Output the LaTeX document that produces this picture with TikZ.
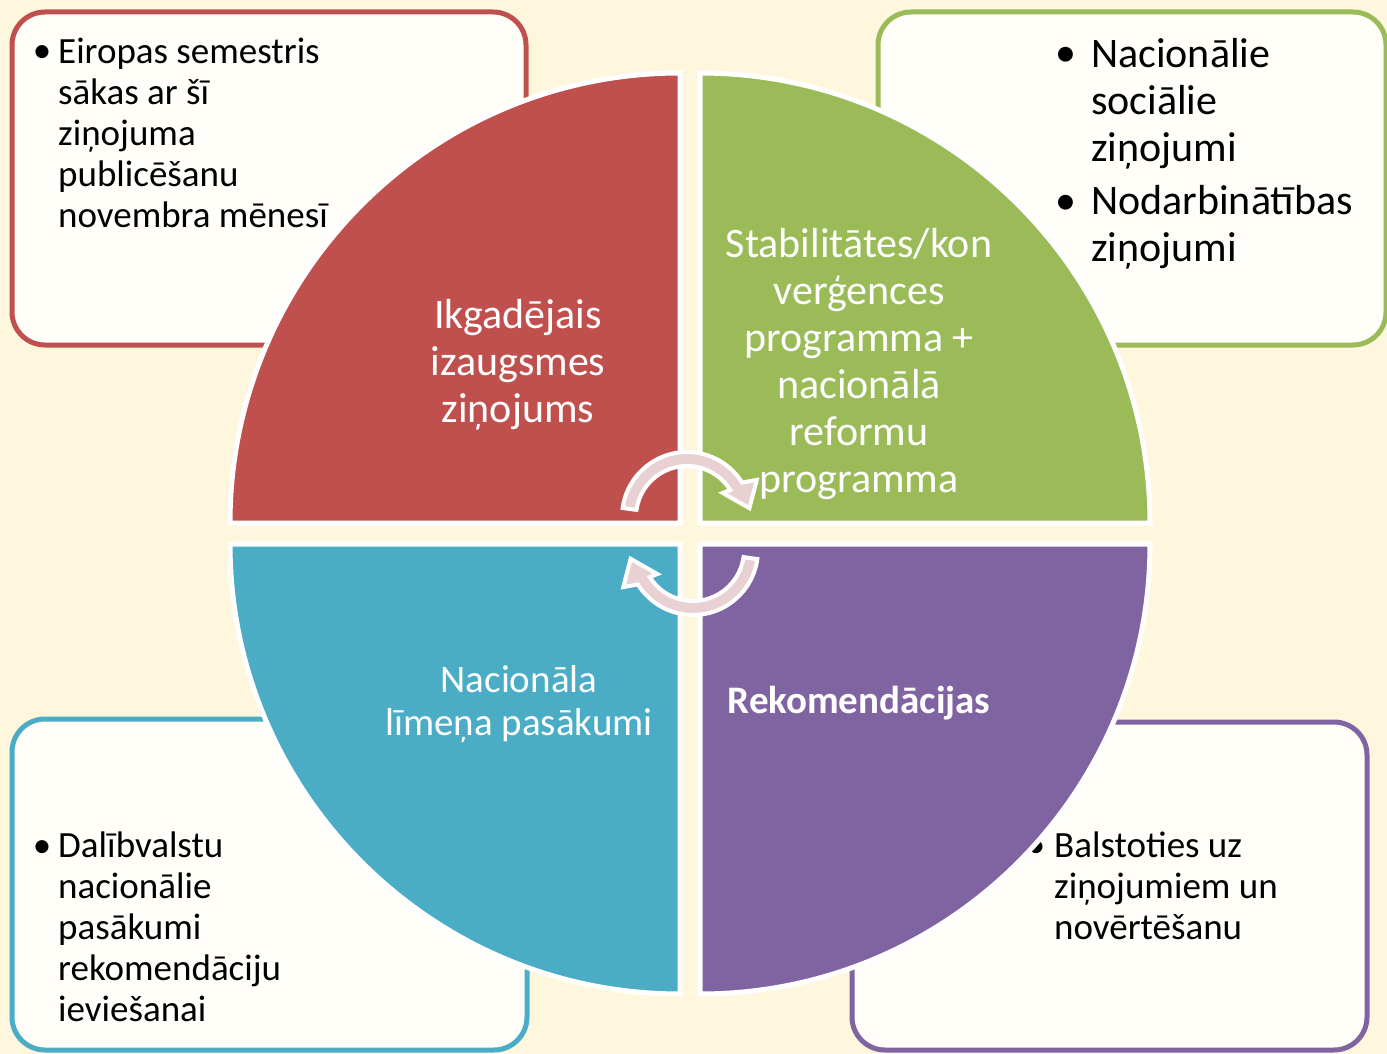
\documentclass[tikz,border=0pt]{standalone}
\usepackage{fontspec}
\setmainfont{Carlito}
\definecolor{bgc}{HTML}{FEF7DE}
\definecolor{boxf}{HTML}{FFFEF8}
\definecolor{qred}{HTML}{C0504D}
\definecolor{qgreen}{HTML}{9BBB59}
\definecolor{qblue}{HTML}{4BACC6}
\definecolor{qpurple}{HTML}{8064A2}
\definecolor{arrpink}{HTML}{E8D0D3}
\begin{document}
\begin{tikzpicture}[x=1pt,y=-1pt,
  infobox/.style={fill=boxf, line width=5pt, rounded corners=33pt},
  quarter/.style={draw=white, line width=5pt},
  boxtext/.style={anchor=base west, align=left, inner sep=0pt, text=black, font=\fontsize{37}{41}\selectfont},
  boxtextbig/.style={anchor=base west, align=left, inner sep=0pt, text=black, font=\fontsize{42}{47}\selectfont},
  bul/.style={anchor=base, inner sep=0pt, text=black, font=\fontsize{37}{41}\selectfont},
  bulbig/.style={anchor=base, inner sep=0pt, text=black, font=\fontsize{42}{47}\selectfont},
  qtext/.style={anchor=base, align=center, inner sep=0pt, text=white, font=\fontsize{42}{47}\selectfont},
  cyclearrow/.style={fill=arrpink, draw=white, line width=4pt, line join=miter}
]
\useasboundingbox (0,0) rectangle (1387,1054);
\fill[bgc] (0,0) rectangle (1387,1054);

% corner boxes
\draw[infobox, draw=qred] (12,12) rectangle (526,345);
\draw[infobox, draw=qgreen] (878,12) rectangle (1386,345);
\draw[infobox, draw=qblue] (12,719) rectangle (527,1050);
\draw[infobox, draw=qpurple] (852,722) rectangle (1367,1050);

% box texts (anchor = baseline of the last line)
\node[bul] (btl) at (42,63) {•};
\node[boxtext] (ttl) at (58,227) {Eiropas semestris\\sākas ar šī\\ziņojuma\\publicēšanu\\novembra mēnesī};
\node[bulbig] (btr1) at (1066,67) {•};
\node[boxtextbig] (ttr1) at (1091,161) {Nacionālie\\sociālie\\ziņojumi};
\node[bulbig] (btr2) at (1066,214) {•};
\node[boxtextbig] (ttr2) at (1091,261) {Nodarbinātības\\ziņojumi};
\node[bul] (bbl) at (42,857) {•};
\node[boxtext] (tbl) at (58,1021) {Dalībvalstu\\nacionālie\\pasākumi\\rekomendāciju\\ieviešanai};
\node[bul] (bbr) at (1036,857) {•};
\node[boxtext] (tbr) at (1054,939) {Balstoties uz\\ziņojumiem un\\novērtēšanu};

% quarter discs
\begin{scope}[shift={(690,533.5)}, yscale=-1]
\draw[quarter, fill=qred] (-10,10.5) -- ++(-450,0) arc[start angle=180, end angle=90, radius=450] -- cycle;
\draw[quarter, fill=qgreen] (10,10.5) -- ++(0,450) arc[start angle=90, end angle=0, radius=450] -- cycle;
\draw[quarter, fill=qblue] (-10,-10.5) -- ++(0,-450) arc[start angle=270, end angle=180, radius=450] -- cycle;
\draw[quarter, fill=qpurple] (10,-10.5) -- ++(450,0) arc[start angle=0, end angle=-90, radius=450] -- cycle;
\end{scope}

% quarter texts (anchor = baseline of the last line)
\node[qtext] (tred) at (518,422) {Ikgadējais\\izaugsmes\\ziņojums};
\node[qtext] (tgreen) at (859,492) {Stabilitātes/kon\\verģences\\programma +\\nacionālā\\reformu\\programma};
\node[qtext, font=\fontsize{39}{43}\selectfont] (tblue) at (519,735) {Nacionāla\\līmeņa pasākumi};
\node[qtext, font=\fontsize{39}{43}\selectfont\bfseries] (tpurple) at (859,713) {Rekomendācijas};

% cycle arrows
\begin{scope}[shift={(687,517)}, yscale=-1]
\draw[cyclearrow] (172:65) arc[start angle=172, end angle=32, radius=65] -- (28:79) -- (8:63) -- (34:43) -- (32:51) arc[start angle=32, end angle=172, radius=51] -- cycle;
\end{scope}
\begin{scope}[shift={(693,550)}, yscale=-1, rotate=180]
\draw[cyclearrow] (172:65) arc[start angle=172, end angle=32, radius=65] -- (28:79) -- (8:63) -- (34:43) -- (32:51) arc[start angle=32, end angle=172, radius=51] -- cycle;
\end{scope}
\end{tikzpicture}
\end{document}
